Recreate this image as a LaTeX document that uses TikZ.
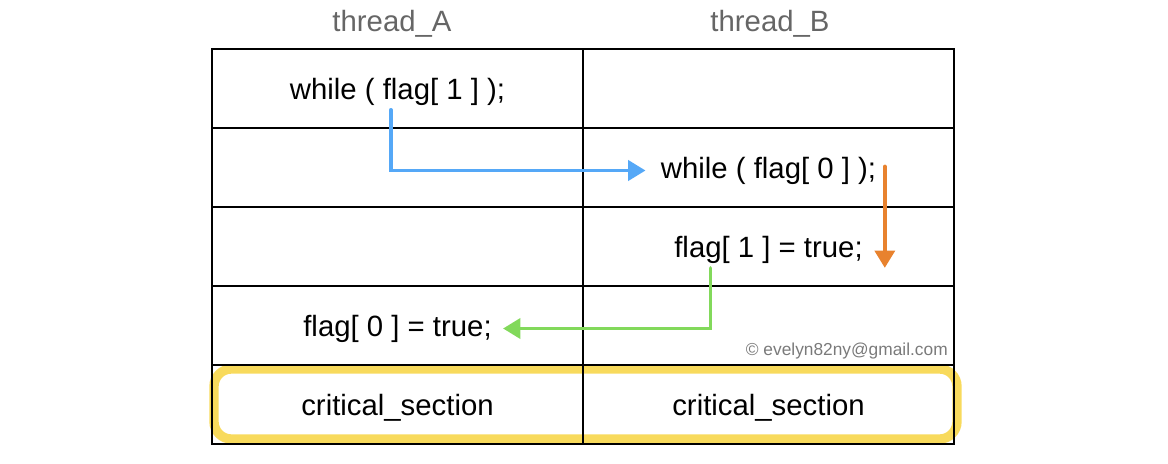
\documentclass[tikz,border=0pt]{standalone}
\usepackage{fontspec}
\setmainfont{Liberation Sans}
\usetikzlibrary{arrows.meta,positioning}
\definecolor{headgray}{HTML}{666666}
\definecolor{markgray}{HTML}{7A7A7A}
\definecolor{flowblue}{HTML}{55A8F7}
\definecolor{floworange}{HTML}{E8822E}
\definecolor{flowgreen}{HTML}{82D95B}
\definecolor{crityellow}{HTML}{F8DA5C}

\begin{document}
\begin{tikzpicture}[x=0.75pt,y=-0.75pt,>={Triangle[length=13pt,width=15pt]},
  every node/.style={font=\fontsize{22}{26}\selectfont},
  flow/.style={->,line width=2.8pt,line cap=round}]
\useasboundingbox (0,0) rectangle (1168,464);
% critical section mark
\draw[crityellow,line width=7pt,rounded corners=13pt] (214,369) rectangle (957,439);
% table
\draw[line width=0.8pt] (212,49) rectangle (954,444);
\foreach \y in {128,207,286,365}{
\draw[line width=0.8pt] (212,\y)--(954,\y);}
\draw[line width=0.8pt] (583,49)--(583,444);
\node[headgray] (thA) at (392,24) {thread\_A};
\node[headgray] (thB) at (770,24) {thread\_B};
\node (a1) at (397.5,91.5) {while ( flag[ 1 ] );};
\node (b1) at (768.5,170.5) {while ( flag[ 0 ] );};
\node (b2) at (768.5,249.5) {flag[ 1 ] = true;};
\node (a4) at (397.5,328.5) {flag[ 0 ] = true;};
\node (a5) at (397.5,407.5) {critical\_section};
\node (b5) at (768.5,407.5) {critical\_section};
\node[markgray,anchor=south east,inner sep=0pt,font=\fontsize{13}{15}\selectfont] (mark) at (948,359) {© evelyn82ny@gmail.com};
% hand-over arrows
\draw[flow,flowblue,shorten >=8pt] ([xshift=-5pt]a1.south) |- (b1.west);
\draw[flow,floworange] ([xshift=3pt,yshift=3pt]b1.east) -- ([xshift=3pt]b1.east |- b2.south);
\draw[flow,flowgreen,shorten >=5pt] ([xshift=-43.5pt]b2.south) |- (a4.east);
\end{tikzpicture}
\end{document}
